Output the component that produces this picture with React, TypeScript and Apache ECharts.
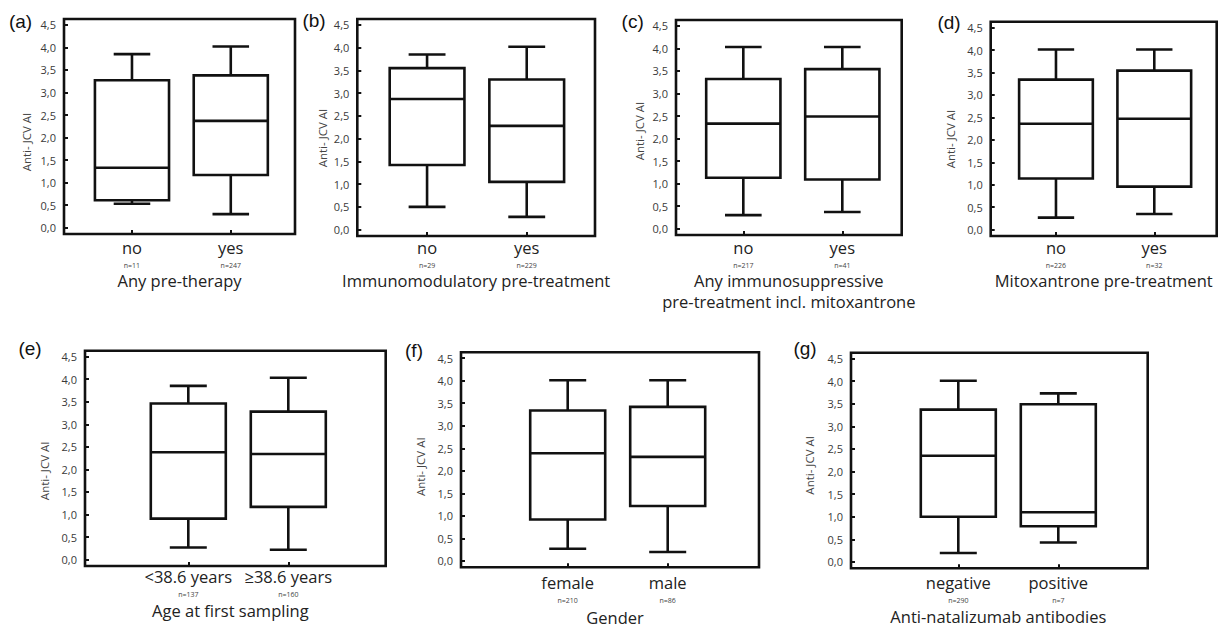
import React, { useEffect, useRef } from 'react';
import * as echarts from 'echarts';

// ---------- data ----------
const yTicks = [0, 0.5, 1, 1.5, 2, 2.5, 3, 3.5, 4, 4.5];
const panelTags = ['(a)', '(b)', '(c)', '(d)', '(e)', '(f)', '(g)'];
const axisTitles = [
  'Any pre-therapy',
  'Immunomodulatory pre-treatment',
  'Any immunosuppressive\npre-treatment incl. mitoxantrone',
  'Mitoxantrone pre-treatment',
  'Age at first sampling',
  'Gender',
  'Anti-natalizumab antibodies',
];
const categories = [
  ['no', 'yes'],
  ['no', 'yes'],
  ['no', 'yes'],
  ['no', 'yes'],
  ['<38.6 years', '≥38.6 years'],
  ['female', 'male'],
  ['negative', 'positive'],
];
const sampleSizes = [
  ['n=11', 'n=247'],
  ['n=29', 'n=229'],
  ['n=217', 'n=41'],
  ['n=226', 'n=32'],
  ['n=137', 'n=160'],
  ['n=210', 'n=86'],
  ['n=290', 'n=7'],
];
// [lower whisker, Q1, median, Q3, upper whisker]
const statsA = [[0.53, 0.61, 1.33, 3.27, 3.85], [0.30, 1.17, 2.37, 3.38, 4.02]];
const statsB = [[0.50, 1.42, 2.87, 3.55, 3.85], [0.28, 1.05, 2.28, 3.30, 4.02]];
const statsC = [[0.30, 1.13, 2.33, 3.32, 4.03], [0.37, 1.09, 2.49, 3.54, 4.03]];
const statsD = [[0.27, 1.14, 2.36, 3.34, 4.01], [0.35, 0.96, 2.47, 3.54, 4.01]];
const statsE = [[0.27, 0.91, 2.38, 3.46, 3.85], [0.22, 1.17, 2.34, 3.28, 4.03]];
const statsF = [[0.27, 0.92, 2.39, 3.34, 4.01], [0.20, 1.22, 2.31, 3.42, 4.01]];
const statsG = [[0.20, 1.00, 2.35, 3.37, 4.01], [0.43, 0.79, 1.10, 3.49, 3.73]];
const allStats = [statsA, statsB, statsC, statsD, statsE, statsF, statsG];

// ---------- layout / style ----------
const FONT = '"Open Sans", "Noto Sans", sans-serif';
const INK = '#111';
const LW = 2.6;
const BOX_W = 0.75;
const CAP_W = 0.37;
const Y_MIN = -0.14;
const Y_MAX = 4.63;

const layouts = [
  { grid: [64, 19, 231, 215], x: [0.312, 2.65], m: 3.5, gap: 38, lh: 16.5, shift: 0, tag: [20.5, 21], yName: [26.7, 142] },
  { grid: [357.3, 19, 237.7, 217], x: [0.3, 2.685], m: 1.5, gap: 36, lh: 16.5, shift: 0, tag: [314, 20], yName: [322, 138] },
  { grid: [676, 20, 225.7, 215], x: [0.32, 2.6], m: 2.5, gap: 34.8, lh: 21, shift: 0, tag: [632.7, 21], yName: [639.3, 131] },
  { grid: [990.7, 21.7, 226, 214.3], x: [0.336, 2.635], m: 1.5, gap: 36, lh: 16.5, shift: 0, tag: [949, 22.5], yName: [950.7, 139] },
  { grid: [85, 350.7, 300.7, 215.3], x: [-0.033, 2.974], m: 0.9, gap: 36.7, lh: 16.5, shift: -5, tag: [30, 348.3], yName: [44, 470.8] },
  { grid: [461, 352.3, 298, 215], x: [-0.067, 2.913], m: 5.2, gap: 41.5, lh: 16.5, shift: 5, tag: [414, 350], yName: [420.3, 466.7] },
  { grid: [851, 352.7, 296.7, 215.6], x: [-0.073, 2.894], m: 4.6, gap: 40.2, lh: 16.5, shift: -1, tag: [805, 348.3], yName: [809.7, 465.3] },
];

const renderBox = (params: any, api: any) => {
  const x = api.value(0);
  const lo = api.value(1);
  const q1 = api.value(2);
  const med = api.value(3);
  const q3 = api.value(4);
  const hi = api.value(5);
  const [cx, yLo] = api.coord([x, lo]);
  const yQ1 = api.coord([x, q1])[1];
  const yMed = api.coord([x, med])[1];
  const yQ3 = api.coord([x, q3])[1];
  const yHi = api.coord([x, hi])[1];
  const hb = api.size([BOX_W, 0])[0] / 2;
  const hc = api.size([CAP_W, 0])[0] / 2;
  const st = { stroke: INK, lineWidth: LW, fill: 'none' };
  return {
    type: 'group',
    children: [
      { type: 'line', shape: { x1: cx, y1: yHi, x2: cx, y2: yQ3 }, style: st },
      { type: 'line', shape: { x1: cx, y1: yQ1, x2: cx, y2: yLo }, style: st },
      { type: 'line', shape: { x1: cx - hc, y1: yHi, x2: cx + hc, y2: yHi }, style: st },
      { type: 'line', shape: { x1: cx - hc, y1: yLo, x2: cx + hc, y2: yLo }, style: st },
      {
        type: 'rect',
        shape: { x: cx - hb, y: yQ3, width: 2 * hb, height: yQ1 - yQ3 },
        style: { stroke: INK, lineWidth: LW, fill: '#fff' },
      },
      { type: 'line', shape: { x1: cx - hb, y1: yMed, x2: cx + hb, y2: yMed }, style: st },
    ],
  };
};

export default function App() {
  const ref = useRef<HTMLDivElement>(null);

  useEffect(() => {
    if (!ref.current) return;
    const chart = echarts.init(ref.current, null, { renderer: 'svg' });

    const grid = layouts.map((L) => ({
      left: L.grid[0],
      top: L.grid[1],
      width: L.grid[2],
      height: L.grid[3],
      show: true,
      borderColor: INK,
      borderWidth: LW,
      backgroundColor: 'transparent',
      containLabel: false,
      outerBoundsMode: 'none',
    }));

    const xAxis = layouts.map((L, i) => ({
      type: 'value',
      gridIndex: i,
      min: L.x[0],
      max: L.x[1],
      splitLine: { show: false },
      axisLine: { show: false, onZero: false },
      axisTick: {
        show: true,
        inside: true,
        length: 4,
        lineStyle: { color: INK, width: 2 },
        customValues: [1, 2],
      },
      axisLabel: {
        show: true,
        margin: L.m,
        customValues: [1, 2],
        formatter: (v: number) => {
          const k = Math.round(v) - 1;
          return `{a|${categories[i][k]}}\n{b|${sampleSizes[i][k]}}`;
        },
        rich: {
          a: { fontFamily: FONT, fontSize: 16.5, lineHeight: 20, color: '#222' },
          b: { fontFamily: FONT, fontSize: 7, lineHeight: 15, color: '#444' },
        },
      },
      name: axisTitles[i],
      nameLocation: 'middle',
      nameGap: L.gap,
      nameTextStyle: {
        fontFamily: FONT,
        fontSize: 16.5,
        lineHeight: L.lh,
        color: '#222',
        padding: L.shift > 0 ? [0, 0, 0, 2 * L.shift] : [0, -2 * L.shift, 0, 0],
      },
    }));

    const yAxis = layouts.map((L, i) => ({
      type: 'value',
      gridIndex: i,
      min: Y_MIN,
      max: Y_MAX,
      splitLine: { show: false },
      axisLine: { show: false, onZero: false },
      axisTick: {
        show: true,
        inside: true,
        length: 4,
        lineStyle: { color: INK, width: 2 },
        customValues: yTicks,
      },
      axisLabel: {
        show: true,
        margin: 8,
        customValues: yTicks,
        formatter: (v: number) => v.toFixed(1).replace('.', ','),
        fontFamily: FONT,
        fontSize: 11,
        color: '#3a3a3a',
      },
    }));

    const series = layouts.map((L, i) => ({
      type: 'custom',
      xAxisIndex: i,
      yAxisIndex: i,
      silent: true,
      renderItem: renderBox,
      encode: { x: 0, y: [1, 2, 3, 4, 5] },
      data: allStats[i].map((s, j) => [j + 1, ...s]),
    }));

    const graphic: any[] = [];
    layouts.forEach((L, i) => {
      graphic.push({
        type: 'text',
        x: L.tag[0],
        y: L.tag[1],
        silent: true,
        style: {
          text: panelTags[i],
          fontFamily: '"Liberation Sans", Arial, sans-serif',
          fontSize: 19,
          fill: '#111',
          align: 'center',
          verticalAlign: 'middle',
        },
      });
      graphic.push({
        type: 'text',
        x: L.yName[0],
        y: L.yName[1],
        rotation: Math.PI / 2,
        silent: true,
        style: {
          text: 'Anti- JCV AI',
          fontFamily: FONT,
          fontSize: 11.5,
          fill: '#444',
          align: 'center',
          verticalAlign: 'middle',
        },
      });
    });

    chart.setOption({
      animation: false,
      backgroundColor: '#fff',
      grid,
      xAxis,
      yAxis,
      series,
      graphic,
    } as any);

    return () => chart.dispose();
  }, []);

  return (
    <div
      ref={ref}
      style={{ position: 'fixed', left: 0, top: 0, width: 1221, height: 629, background: '#fff' }}
    />
  );
}
